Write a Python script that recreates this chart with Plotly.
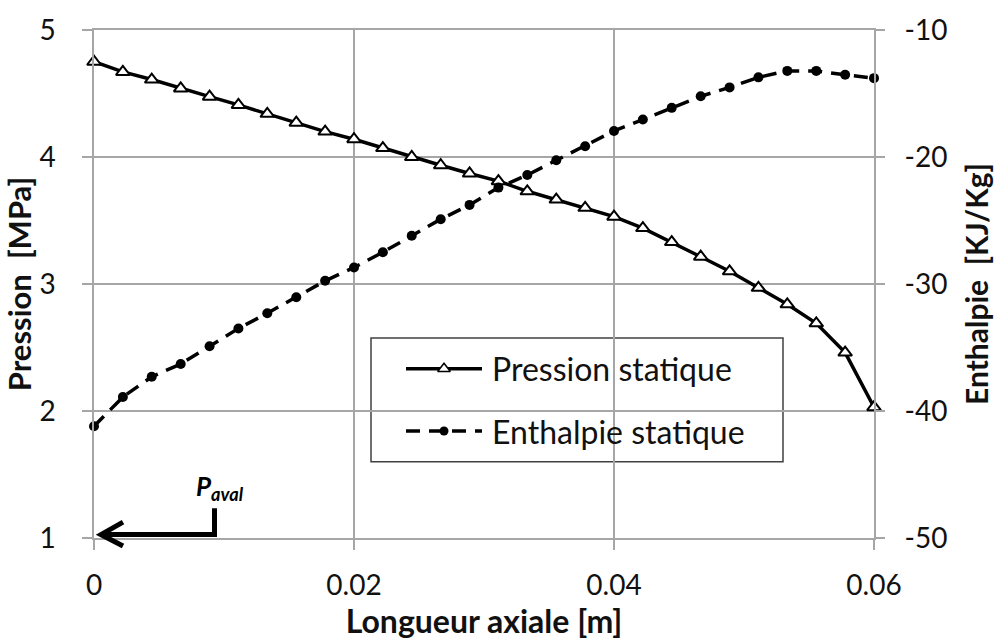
import plotly.graph_objects as go

# ---- data ----
longueur = [0, 0.00222, 0.00444, 0.00667, 0.00889, 0.01111, 0.01333, 0.01556,
            0.01778, 0.02, 0.02222, 0.02444, 0.02667, 0.02889, 0.03111, 0.03333,
            0.03556, 0.03778, 0.04, 0.04222, 0.04444, 0.04667, 0.04889, 0.05111,
            0.05333, 0.05556, 0.05778, 0.06]
pression = [4.75, 4.67, 4.61, 4.54, 4.475, 4.41, 4.34, 4.27, 4.20, 4.14, 4.07,
            4.00, 3.935, 3.87, 3.81, 3.73, 3.665, 3.60, 3.53, 3.44, 3.33, 3.215,
            3.10, 2.97, 2.84, 2.69, 2.46, 2.03]
enthalpie = [-41.2, -38.9, -37.3, -36.3, -34.9, -33.5, -32.3, -31.05, -29.75,
             -28.7, -27.5, -26.2, -24.9, -23.77, -22.41, -21.42, -20.25, -19.16,
             -17.95, -17.05, -16.13, -15.22, -14.52, -13.73, -13.22, -13.22,
             -13.53, -13.79]
x_ticks = [0, 0.02, 0.04, 0.06]
x_ticklabels = ["0", "0.02", "0.04", "0.06"]
p_ticks = [1, 2, 3, 4, 5]
p_ticklabels = ["1", "2", "3", "4", "5"]
h_ticks = [-50, -40, -30, -20, -10]
h_ticklabels = ["-50", "-40", "-30", "-20", "-10"]
series_names = ["Pression statique", "Enthalpie statique"]

# ---- layout constants ----
W, H = 1006, 643
ML, MR, MT, MB = 94, 132, 25, 105
PW, PH = W - ML - MR, H - MT - MB
FONT = "Lato"
GRID = "#a6a6a6"
DASH = "14px,9px"
TXT = "#111"


def px_x(px):
    return (px - ML) / PW


def px_y(py):
    return (H - MB - py) / PH


tri_marker = dict(symbol="triangle-up", size=12, color="white",
                  line=dict(color="black", width=2))
dot_marker = dict(symbol="circle", size=10, color="black")

fig = go.Figure()
fig.add_trace(go.Scatter(x=longueur, y=pression, name=series_names[0],
                         mode="lines+markers", cliponaxis=False,
                         line=dict(color="black", width=3.5),
                         marker=tri_marker, showlegend=False))
fig.add_trace(go.Scatter(x=longueur, y=enthalpie, name=series_names[1],
                         yaxis="y2", mode="lines+markers", cliponaxis=False,
                         line=dict(color="black", width=3.5, dash=DASH),
                         marker=dot_marker, showlegend=False))

# legend samples on an invisible overlay axis (0..1 coordinates over the plot area)
leg_y = [px_y(367), px_y(430)]
leg_x0, leg_x1, leg_xm = px_x(406), px_x(482), px_x(444)
fig.add_trace(go.Scatter(x=[leg_x0, leg_x1], y=[leg_y[0]] * 2, xaxis="x3", yaxis="y3",
                         mode="lines", line=dict(color="black", width=3.5),
                         showlegend=False, hoverinfo="skip", cliponaxis=False))
fig.add_trace(go.Scatter(x=[leg_xm], y=[leg_y[0]], xaxis="x3", yaxis="y3",
                         mode="markers", marker=dict(symbol="triangle-up", size=11, color="white",
                                                     line=dict(color="black", width=1.5)),
                         showlegend=False, hoverinfo="skip", cliponaxis=False))
fig.add_trace(go.Scatter(x=[leg_x0, leg_x1], y=[leg_y[1]] * 2, xaxis="x3", yaxis="y3",
                         mode="lines", line=dict(color="black", width=3.5, dash=DASH),
                         showlegend=False, hoverinfo="skip", cliponaxis=False))
fig.add_trace(go.Scatter(x=[leg_xm], y=[leg_y[1]], xaxis="x3", yaxis="y3",
                         mode="markers", marker=dict(symbol="circle", size=9, color="black"),
                         showlegend=False, hoverinfo="skip", cliponaxis=False))

axis_common = dict(showgrid=True, gridcolor=GRID, gridwidth=1.5,
                   showline=True, linecolor=GRID, linewidth=1.5, mirror=True,
                   ticks="outside", ticklen=10, tickcolor=GRID, tickwidth=1.5,
                   zeroline=False, tickfont=dict(family=FONT, size=28, color=TXT))

fig.update_layout(
    width=W, height=H,
    margin=dict(l=ML, r=MR, t=MT, b=MB),
    paper_bgcolor="white", plot_bgcolor="white",
    font=dict(family=FONT, color=TXT),
    xaxis=dict(range=[0, 0.06], tickvals=x_ticks, ticktext=x_ticklabels,
               ticklabelstandoff=12,
               title=dict(text="<b>Longueur axiale [m]</b>", standoff=5,
                          font=dict(family=FONT, size=32, color=TXT)),
               **axis_common),
    yaxis=dict(range=[1, 5], tickvals=p_ticks, ticktext=p_ticklabels,
               ticklabelstandoff=21,
               title=dict(text="<b>Pression\u00a0 [MPa]</b>", standoff=0,
                          font=dict(family=FONT, size=31, color=TXT)),
               **axis_common),
    yaxis2=dict(range=[-50, -10], tickvals=h_ticks, ticktext=h_ticklabels,
                overlaying="y", side="right",
                showgrid=False, zeroline=False, showline=False,
                ticks="outside", ticklen=10, tickcolor=GRID, tickwidth=1.5,
                ticklabelstandoff=14,
                tickfont=dict(family=FONT, size=28, color=TXT),
                title=dict(text="<b>Enthalpie\u00a0 [KJ/Kg]</b>", standoff=20,
                           font=dict(family=FONT, size=30, color=TXT))),
    xaxis3=dict(range=[0, 1], overlaying="x", visible=False, fixedrange=True),
    yaxis3=dict(range=[0, 1], overlaying="y", visible=False, fixedrange=True),
)

# legend box: between gridlines and traces
fig.add_shape(type="rect", xref="paper", yref="paper",
              x0=px_x(371), x1=px_x(783), y0=px_y(461), y1=px_y(336),
              fillcolor="white", line=dict(color="#404040", width=1.5), layer="between")
for i, name in enumerate(series_names):
    fig.add_annotation(xref="paper", yref="paper", x=px_x(490), y=leg_y[i],
                       xanchor="left", yanchor="middle", showarrow=False,
                       text=name, font=dict(family=FONT, size=32, color=TXT))

# P_aval marker arrow
fig.add_shape(type="path", xref="paper", yref="paper",
              path=f"M {px_x(214.5)},{px_y(508)} L {px_x(214.5)},{px_y(534.5)} L {px_x(101)},{px_y(534.5)}",
              line=dict(color="black", width=5), layer="above")
fig.add_shape(type="path", xref="paper", yref="paper",
              path=f"M {px_x(123)},{px_y(522)} L {px_x(101)},{px_y(534.5)} L {px_x(123)},{px_y(546)}",
              line=dict(color="black", width=5), layer="above")
fig.add_annotation(xref="paper", yref="paper", x=px_x(194), y=px_y(487),
                   xanchor="left", yanchor="middle", showarrow=False,
                   text="<b><i>P</i></b><sub><b><i>aval</i></b></sub>",
                   font=dict(family=FONT, size=26, color="black"))

fig.write_html("out.html")
